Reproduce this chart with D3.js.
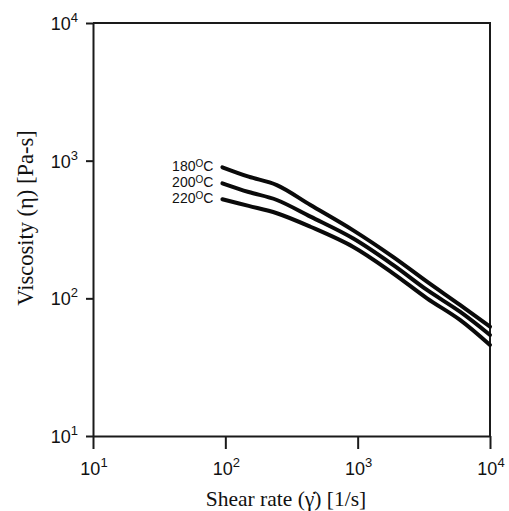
<!DOCTYPE html>
<html>
<head>
<meta charset="utf-8">
<script src="https://cdn.jsdelivr.net/npm/d3@7"></script>
<style>
  html, body { margin: 0; padding: 0; background: #fff; }
  svg { display: block; }
</style>
</head>
<body>
<svg id="chart" width="509" height="511"></svg>
<script>
// ---- data ----
const shearRate = [95, 150, 245, 440, 920, 1850, 3340, 5930, 10000];
const visc180 = [895, 765, 665, 476, 313, 200, 132, 89.5, 62.2];
const visc200 = [685, 592, 518, 392, 273, 175, 115, 80, 54.2];
const visc220 = [524, 469, 415, 331, 237, 152, 100, 69.7, 45.8];
const seriesNames = ["180", "200", "220"];
const seriesValues = [visc180, visc200, visc220];
const xTickValues = [10, 100, 1000, 10000];
const yTickValues = [10, 100, 1000, 10000];
const xTitle = "Shear rate (\u03B3\u0307) [1/s]";
const yTitle = "Viscosity (\u03B7) [Pa-s]";

// ---- layout ----
const svg = d3.select("#chart");
const mLeft = 93, mRight = 490, mTop = 23, mBottom = 436;

const x = d3.scaleLog().domain([10, 10000]).range([mLeft, mRight]);
const y = d3.scaleLog().domain([10, 10000]).range([mBottom, mTop]);

const frameColor = "#1a1a1a";

// frame (top and right sides)
svg.append("path")
  .attr("d", `M${x(10)},${y(10000)}H${x(10000)}V${y(10)}`)
  .attr("fill", "none").attr("stroke", frameColor).attr("stroke-width", 2);

// bottom axis
const gx = svg.append("g").attr("transform", `translate(0,${mBottom})`)
  .call(d3.axisBottom(x).tickValues(xTickValues).tickSize(13).tickSizeOuter(0).tickFormat(""));
gx.select(".domain").attr("stroke", frameColor).attr("stroke-width", 2);
gx.selectAll(".tick line").attr("stroke", frameColor).attr("stroke-width", 2);

// left axis
const gy = svg.append("g").attr("transform", `translate(${mLeft},0)`)
  .call(d3.axisLeft(y).tickValues(yTickValues).tickSize(7).tickSizeOuter(0).tickFormat(""));
gy.select(".domain").attr("stroke", frameColor).attr("stroke-width", 2);
gy.selectAll(".tick line").attr("stroke", frameColor).attr("stroke-width", 2);

const tickFont = "'Liberation Sans', Arial, Helvetica, sans-serif";

function powLabel(sel, v) {
  const e = Math.round(Math.log10(v));
  sel.append("tspan").text("10");
  sel.append("tspan").attr("font-size", 13).attr("dy", -8).text(e);
}

// x tick labels
xTickValues.forEach(v => {
  const t = svg.append("text")
    .attr("x", x(v) + 1).attr("y", 475)
    .attr("text-anchor", "middle")
    .attr("font-family", tickFont).attr("font-size", 18).attr("fill", "#111");
  powLabel(t, v);
});

// y tick labels
yTickValues.forEach(v => {
  const t = svg.append("text")
    .attr("x", 78).attr("y", y(v) + 7)
    .attr("text-anchor", "end")
    .attr("font-family", tickFont).attr("font-size", 18).attr("fill", "#111");
  powLabel(t, v);
});

// axis titles
svg.append("text")
  .attr("x", 286).attr("y", 506)
  .attr("text-anchor", "middle")
  .attr("font-family", "'Liberation Serif', 'Times New Roman', serif")
  .attr("font-size", 21.5).attr("fill", "#111")
  .text(xTitle);

svg.append("text")
  .attr("transform", "translate(33,218) rotate(-90)")
  .attr("text-anchor", "middle")
  .attr("font-family", "'Liberation Serif', 'Times New Roman', serif")
  .attr("font-size", 22.5).attr("fill", "#111")
  .text(yTitle);

// curves
const line = d3.line()
  .x(d => x(d[0])).y(d => y(d[1]))
  .curve(d3.curveCatmullRom.alpha(0.5));

seriesValues.forEach((vals, i) => {
  const pts = shearRate.map((s, k) => [s, vals[k]]);
  svg.append("path")
    .attr("d", line(pts))
    .attr("fill", "none").attr("stroke", "#0a0a0a")
    .attr("stroke-width", 4).attr("stroke-linecap", "round");

  const lab = svg.append("text")
    .attr("x", x(shearRate[0]) - 9).attr("y", y(vals[0]) + 4)
    .attr("text-anchor", "end")
    .attr("font-family", tickFont).attr("font-size", 14).attr("fill", "#111");
  lab.append("tspan").text(seriesNames[i]);
  lab.append("tspan").attr("font-size", 10).attr("dy", -4).text("O");
  lab.append("tspan").attr("dy", 4).text("C");
});
</script>
</body>
</html>
